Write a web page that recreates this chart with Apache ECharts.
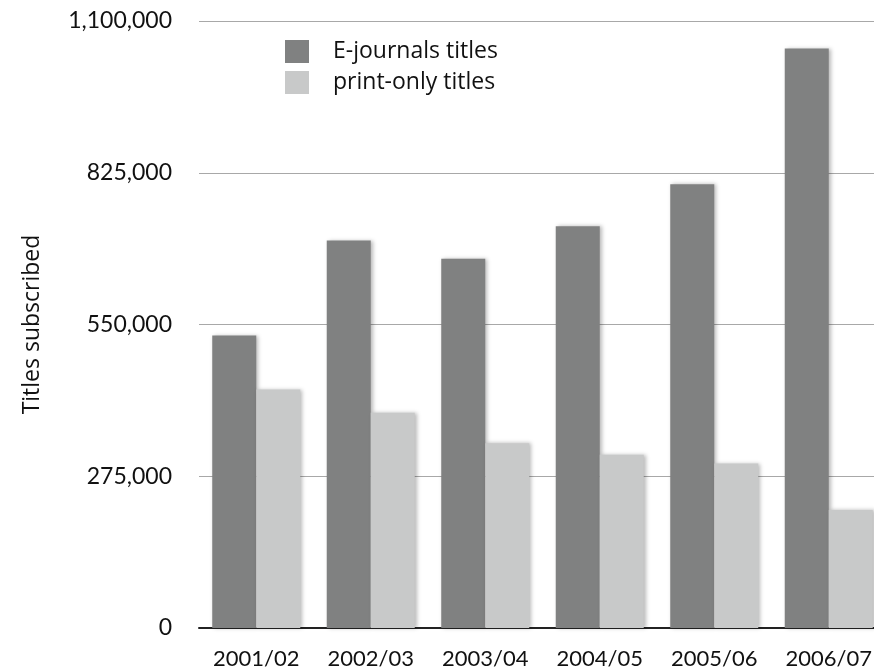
<!DOCTYPE html>
<html>
<head>
<meta charset="utf-8">
<title>Titles subscribed</title>
<script src="https://cdn.jsdelivr.net/npm/echarts@6/dist/echarts.min.js"></script>
<style>
  html, body { margin: 0; padding: 0; background: #fff; }
  #chart { width: 874px; height: 672px; }
</style>
</head>
<body>
<div id="chart"></div>
<script>
// Academic years
const years = ['2001/02', '2002/03', '2003/04', '2004/05', '2005/06', '2006/07'];
// Titles subscribed per year
const ejournalTitles = [530000, 702000, 669000, 728000, 804000, 1050000];
const printOnlyTitles = [432000, 390000, 335000, 314000, 298000, 214000];
// Value axis range and step
const yMin = 0;
const yMax = 1100000;
const yStep = 275000;

const FONT = 'Lato, "Open Sans", "DejaVu Sans", sans-serif';
const WIDE_FONT = '"Open Sans", Lato, "DejaVu Sans", sans-serif';
const INK = '#111111';

const chart = echarts.init(document.getElementById('chart'), null, { renderer: 'canvas' });

const barShadow = {
  shadowColor: 'rgba(0,0,0,0.28)',
  shadowBlur: 4,
  shadowOffsetX: 2,
  shadowOffsetY: 0
};

chart.setOption({
  backgroundColor: '#ffffff',
  animation: false,
  textStyle: { fontFamily: FONT },
  grid: {
    left: 199,
    right: -12,
    top: 21,
    bottom: 44,
    containLabel: false,
    outerBoundsMode: 'none'
  },
  legend: {
    orient: 'vertical',
    left: 285,
    top: 40,
    padding: 0,
    itemWidth: 24,
    itemHeight: 23,
    itemGap: 8,
    icon: 'rect',
    data: ['E-journals titles', 'print-only titles'],
    textStyle: {
      fontFamily: WIDE_FONT,
      fontSize: 23,
      color: INK,
      padding: [0, 0, 0, 19]
    }
  },
  xAxis: {
    type: 'category',
    data: years,
    axisTick: { show: false },
    axisLine: { lineStyle: { color: '#222', width: 2 } },
    axisLabel: {
      fontFamily: FONT,
      fontSize: 22,
      color: INK,
      margin: 20
    }
  },
  yAxis: {
    type: 'value',
    min: yMin,
    max: yMax,
    interval: yStep,
    name: 'Titles subscribed',
    nameLocation: 'middle',
    nameGap: 155,
    nameTextStyle: { fontFamily: WIDE_FONT, fontSize: 23, color: INK },
    axisLine: { show: false },
    axisTick: { show: false },
    axisLabel: {
      fontFamily: FONT,
      fontSize: 23,
      color: INK,
      margin: 27,
      formatter: v => v.toLocaleString('en-US')
    },
    splitLine: { lineStyle: { color: '#a8a8a8', width: 1.2 } }
  },
  series: [
    {
      name: 'E-journals titles',
      type: 'bar',
      data: ejournalTitles,
      barWidth: 44,
      barGap: '0%',
      itemStyle: Object.assign({ color: '#808181' }, barShadow)
    },
    {
      name: 'print-only titles',
      type: 'bar',
      data: printOnlyTitles,
      barWidth: 44,
      barGap: '0%',
      itemStyle: Object.assign({ color: '#c8c9c9' }, barShadow)
    }
  ]
});
</script>
</body>
</html>
